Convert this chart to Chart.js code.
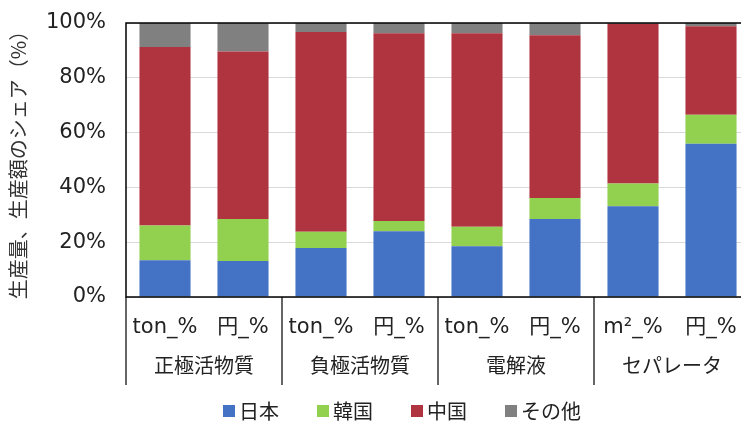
<!DOCTYPE html>
<html>
<head>
<meta charset="utf-8">
<script src="https://cdn.jsdelivr.net/npm/chart.js@4"></script>
<style>
  html, body { margin: 0; padding: 0; background: #fff; overflow: hidden; }
  #wrap { width: 800px; height: 424px; }
</style>
</head>
<body>
<div id="wrap"><canvas id="shareChart"></canvas></div>
<script>
// sub labels (unit of each bar) and the material group they belong to
const barLabels = ['ton_%', '円_%', 'ton_%', '円_%', 'ton_%', '円_%', 'm²_%', '円_%'];
const groups = ['正極活物質', '負極活物質', '電解液', 'セパレータ'];

// share per country (%)
const japan = [13.4, 13.1, 17.9, 24.0, 18.5, 28.5, 33.1, 55.9];
const korea = [12.7, 15.4, 5.9, 3.7, 7.1, 7.6, 8.3, 10.6];
const china = [65.1, 61.1, 72.9, 68.6, 70.7, 59.4, 58.2, 32.3];
const other = [8.8, 10.4, 3.3, 3.7, 3.7, 4.5, 0.4, 1.2];

const yTicks = [0, 20, 40, 60, 80, 100];

const latin = "'DejaVu Sans', 'Noto Sans CJK JP', sans-serif";
const jp = "'Noto Sans CJK JP', sans-serif";

// frame, group separators, group names and the legend
const decorations = {
  id: 'decorations',
  afterDraw(chart) {
    const c = chart.ctx;
    const a = chart.chartArea;
    const x = chart.scales.x;
    c.save();
    c.strokeStyle = '#000';
    c.lineWidth = 1.5;
    c.strokeRect(a.left, a.top, a.right - a.left, a.bottom - a.top);

    const half = (x.getPixelForValue(1) - x.getPixelForValue(0)) / 2;
    c.lineWidth = 1.2;
    for (let g = 0; g <= groups.length; g++) {
      const sx = g < groups.length ? x.getPixelForValue(g * 2) - half : x.getPixelForValue(g * 2 - 1) + half;
      c.beginPath();
      c.moveTo(sx, a.bottom);
      c.lineTo(sx, 385);
      c.stroke();
    }
    c.fillStyle = '#222';
    c.font = '20px ' + jp;
    c.textAlign = 'center';
    c.textBaseline = 'middle';
    groups.forEach((name, g) => {
      const cx = (x.getPixelForValue(g * 2) + x.getPixelForValue(g * 2 + 1)) / 2;
      c.fillText(name, cx, 365);
    });

    // legend
    const items = chart.data.datasets;
    c.font = '20px ' + jp;
    c.textAlign = 'left';
    const step = 94;
    let lx = 223;
    items.forEach(ds => {
      c.fillStyle = ds.backgroundColor;
      c.fillRect(lx, 405, 12, 12);
      c.fillStyle = '#222';
      c.fillText(ds.label, lx + 16, 411);
      lx += step;
    });
    c.restore();
  }
};

new Chart(document.getElementById('shareChart'), {
  type: 'bar',
  data: {
    labels: barLabels,
    datasets: [
      { label: '日本', data: japan, backgroundColor: '#4472C4' },
      { label: '韓国', data: korea, backgroundColor: '#92D050' },
      { label: '中国', data: china, backgroundColor: '#B0343F' },
      { label: 'その他', data: other, backgroundColor: '#808080' }
    ]
  },
  options: {
    responsive: true,
    maintainAspectRatio: false,
    animation: false,
    layout: { padding: { top: 23, right: 50, bottom: 37, left: 0 } },
    datasets: { bar: { categoryPercentage: 1, barPercentage: 0.655 } },
    scales: {
      x: {
        stacked: true,
        grid: { display: false },
        border: { display: false },
        ticks: { color: '#222', font: { size: 21, family: latin }, padding: 10, maxRotation: 0 },
        afterFit(scale) { scale.height = 90; }
      },
      y: {
        stacked: true,
        min: 0,
        max: 100,
        afterBuildTicks(scale) { scale.ticks = yTicks.map(v => ({ value: v })); },
        grid: { color: '#d9d9d9', drawTicks: false },
        border: { display: false },
        ticks: {
          color: '#222',
          padding: 20,
          font: { size: 21, family: latin },
          callback: v => v + '%'
        },
        title: {
          display: true,
          text: '生産量、生産額のシェア（%）',
          color: '#333',
          font: { size: 20, family: jp },
          padding: { top: 6, bottom: 0 }
        },
        afterFit(scale) {
          scale.width = 126;
          scale.paddingTop = 0;
          scale.paddingBottom = 0;
        }
      }
    },
    plugins: {
      legend: { display: false },
      tooltip: { enabled: false }
    }
  },
  plugins: [decorations]
});
</script>
</body>
</html>
